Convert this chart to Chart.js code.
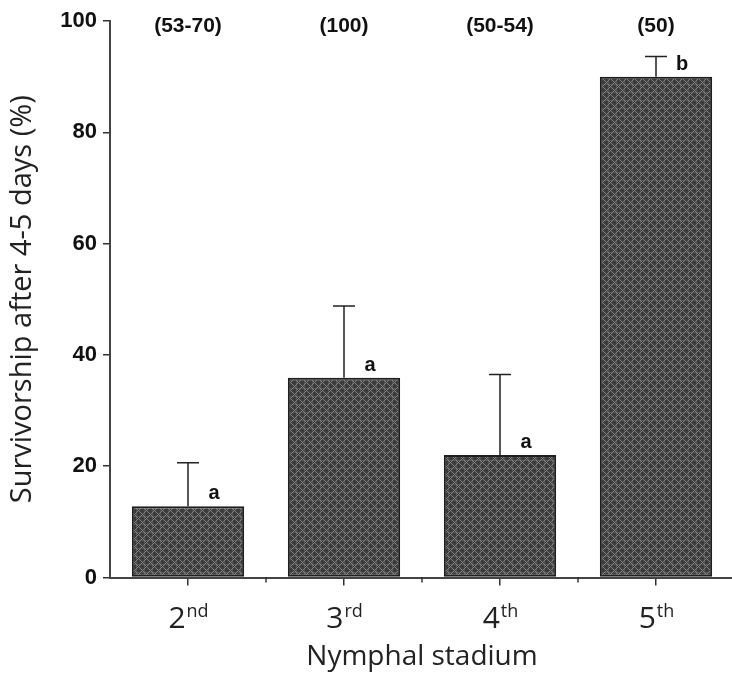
<!DOCTYPE html>
<html>
<head>
<meta charset="utf-8">
<script src="https://cdn.jsdelivr.net/npm/chart.js@4"></script>
<style>
  html, body { margin: 0; padding: 0; background: #fff; overflow: hidden; }
  #wrap { width: 736px; height: 676px; }
</style>
</head>
<body>
<div id="wrap"><canvas id="chart"></canvas></div>
<script>
"use strict"

// survivorship per nymphal stadium
var stadiumNum = ['2', '3', '4', '5'];
var stadiumSuffix = ['nd', 'rd', 'th', 'th'];
var survival = [12.8, 35.9, 22.0, 90.0];
var errorTop = [20.6, 48.8, 36.5, 93.6];
var groupLetters = ['a', 'a', 'a', 'b'];
var sampleSizes = ['(53-70)', '(100)', '(50-54)', '(50)'];
var yTicks = [0, 20, 40, 60, 80, 100];

var canvas = document.getElementById('chart');
var mainCtx = canvas.getContext('2d');

// dark crosshatch fill for the bars
var makeHatch = function () {
    var s = 8;
    var c = document.createElement('canvas');
    c.width = s;
    c.height = s;
    var g = c.getContext('2d');
    g.fillStyle = '#3c3c3c';
    g.fillRect(0, 0, s, s);
    for (var px = 0; px < s; px++) {
        for (var py = 0; py < s; py++) {
            if ((px + py) % s == 0 || (px - py + s) % s == 4) {
                g.fillStyle = '#838383';
                g.fillRect(px, py, 1, 1);
            } else if (py == 4 || px == 0) {
                g.fillStyle = '#555555';
                g.fillRect(px, py, 1, 1);
            }
        }
    }
    return mainCtx.createPattern(c, 'repeat');
}

var annotate = {
    id: 'annotate',
    afterDatasetsDraw: function (chart) {
        var ctx = chart.ctx;
        var x = chart.scales.x;
        var y = chart.scales.y;
        var area = chart.chartArea;
        ctx.save();

        // upper error bars
        ctx.strokeStyle = '#222';
        ctx.lineWidth = 1.5;
        for (var i = 0; i < survival.length; i++) {
            var cx = x.getPixelForValue(i);
            var y0 = y.getPixelForValue(survival[i]);
            var y1 = y.getPixelForValue(errorTop[i]);
            ctx.beginPath();
            ctx.moveTo(cx, y0);
            ctx.lineTo(cx, y1);
            ctx.moveTo(cx - 11, y1);
            ctx.lineTo(cx + 11, y1);
            ctx.stroke();
        }

        // small ticks between categories
        ctx.strokeStyle = '#333';
        ctx.lineWidth = 1.5;
        for (var k = 0; k < survival.length - 1; k++) {
            var bx = x.getPixelForValue(k + 0.5);
            ctx.beginPath();
            ctx.moveTo(bx, area.bottom);
            ctx.lineTo(bx, area.bottom + 5);
            ctx.stroke();
        }

        // significance letters
        ctx.fillStyle = '#111';
        ctx.font = 'bold 20px "Liberation Sans", Arial, sans-serif';
        ctx.textAlign = 'center';
        ctx.textBaseline = 'alphabetic';
        for (var j = 0; j < survival.length; j++) {
            ctx.fillText(groupLetters[j], x.getPixelForValue(j) + 26, y.getPixelForValue(survival[j]) - 7);
        }

        // sample sizes across the top
        ctx.font = 'bold 21px "Liberation Sans", Arial, sans-serif';
        ctx.textBaseline = 'middle';
        for (var n = 0; n < sampleSizes.length; n++) {
            ctx.fillText(sampleSizes[n], x.getPixelForValue(n), area.top + 5);
        }

        // category labels with superscript suffix
        ctx.textBaseline = 'alphabetic';
        ctx.textAlign = 'left';
        ctx.fillStyle = '#222';
        var bigFont = '30px "Open Sans", sans-serif';
        var supFont = '18px "Open Sans", sans-serif';
        for (var m = 0; m < stadiumNum.length; m++) {
            ctx.font = bigFont;
            var w1 = ctx.measureText(stadiumNum[m]).width;
            ctx.font = supFont;
            var w2 = ctx.measureText(stadiumSuffix[m]).width;
            var left = x.getPixelForValue(m) - (w1 + w2) / 2;
            var base = area.bottom + 50;
            ctx.font = bigFont;
            ctx.fillText(stadiumNum[m], left, base);
            ctx.font = supFont;
            ctx.fillText(stadiumSuffix[m], left + w1 + 1, base - 11);
        }
        ctx.restore();
    }
};

const data = {
    labels: stadiumNum.map(function (n, i) { return n + stadiumSuffix[i]; }),
    datasets: [{
        label: 'Survivorship',
        data: survival,
        backgroundColor: makeHatch(),
        borderColor: '#1e1e1e',
        borderWidth: 2,
        borderSkipped: false,
        barPercentage: 0.72,
        categoryPercentage: 1.0,
    }]
};

const config = {
    type: 'bar',
    data: data,
    options: {
        responsive: true,
        maintainAspectRatio: false,
        animation: false,
        layout: { padding: { top: 21, right: 2, left: 0, bottom: 0 } },
        plugins: {
            legend: { display: false },
            tooltip: { enabled: false },
        },
        scales: {
            x: {
                offset: true,
                grid: { display: true, drawOnChartArea: false, offset: false, tickLength: 8, color: '#333', lineWidth: 1.5 },
                border: { display: true, color: '#444', width: 2 },
                ticks: { display: false },
                title: {
                    display: true,
                    text: 'Nymphal stadium',
                    color: '#222',
                    font: { size: 28, family: '"Open Sans", sans-serif' },
                    padding: { top: 0, bottom: 2 }
                },
                afterFit: function (scale) { scale.height = 98.5; }
            },
            y: {
                min: 0,
                max: 100,
                afterBuildTicks: function (scale) {
                    scale.ticks = yTicks.map(function (v) { return { value: v }; });
                },
                grid: { display: true, drawOnChartArea: false, tickLength: 7, color: '#333', lineWidth: 1.5 },
                border: { display: true, color: '#444', width: 2 },
                ticks: {
                    color: '#111',
                    padding: 6,
                    font: { size: 22, weight: 'bold', family: '"Liberation Sans", Arial, sans-serif' }
                },
                title: {
                    display: true,
                    text: 'Survivorship after 4-5 days (%)',
                    color: '#222',
                    font: { size: 29, family: '"Open Sans", sans-serif' },
                    padding: { top: 5, bottom: 0 }
                },
                afterFit: function (scale) { scale.width = 110; }
            }
        }
    },
    plugins: [annotate]
};

var myChart = new Chart(mainCtx, config);
</script>
</body>
</html>
